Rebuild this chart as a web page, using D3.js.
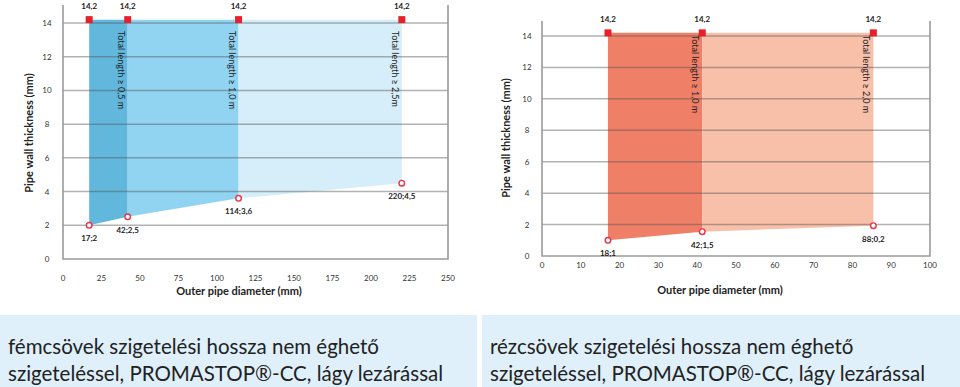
<!DOCTYPE html>
<html>
<head>
<meta charset="utf-8">
<script src="https://d3js.org/d3.v7.min.js"></script>
<style>
  body { margin: 0; background: #fff; }
  svg { display: block; font-family: Lato, "Liberation Sans", sans-serif; }
  .grid { stroke: #555; stroke-opacity: 0.45; stroke-width: 1.5; }
  .frame { stroke: #9a9a9a; stroke-width: 1.6; fill: none; }
  .tick { font-size: 8px; fill: #333; }
  .lbl { font-size: 8px; font-weight: bold; fill: #222; }
  .len { font-size: 9px; fill: #222; }
  .title { font-size: 11px; font-weight: bold; fill: #222; }
  .caption { font-size: 20.5px; fill: #222; }
</style>
</head>
<body>
<script>
// left chart: steel pipes
var steelDiam = [17, 42, 114, 220];
var steelWall = [2, 2.5, 3.6, 4.5];
var steelPointLabels = ["17;2", "42;2,5", "114;3,6", "220;4,5"];
var steelLengthLabels = ["Total length \u2265 0,5 m", "Total length \u2265 1,0 m", "Total length \u2265 2,5m"];
var steelXTicks = [0, 25, 50, 75, 100, 125, 150, 175, 200, 225, 250];

// right chart: copper pipes
var copperDiam = [17, 41.3, 85.4];
var copperWall = [1, 1.55, 1.93];
var copperPointLabels = ["18;1", "42;1,5", "88;0,2"];
var copperLengthLabels = ["Total length \u2265 1,0 m", "Total length \u2265 2,0 m"];
var copperXTicks = [0, 10, 20, 30, 40, 50, 60, 70, 80, 90, 100];

var topWall = 14.2;
var topLabel = "14,2";
var yTicks = [0, 2, 4, 6, 8, 10, 12, 14];

var captions = [
  ["f\u00e9mcs\u00f6vek szigetel\u00e9si hossza nem \u00e9ghet\u0151", "szigetel\u00e9ssel, PROMASTOP\u00ae-CC, l\u00e1gy lez\u00e1r\u00e1ssal"],
  ["r\u00e9zcs\u00f6vek szigetel\u00e9si hossza nem \u00e9ghet\u0151", "szigetel\u00e9ssel, PROMASTOP\u00ae-CC, l\u00e1gy lez\u00e1r\u00e1ssal"]
];

var svg = d3.select("body").append("svg").attr("width", 960).attr("height", 387);

function drawChart(o) {
  var x = d3.scaleLinear().domain([0, o.xMax]).range([o.x0, o.x1]);
  var y = d3.scaleLinear().domain([0, 14]).range([o.y0, o.y1]);
  var g = svg.append("g");

  // filled bands between consecutive diameters
  var bands = d3.range(o.diam.length - 1).map(function (i) {
    return [
      [o.diam[i], topWall], [o.diam[i + 1], topWall],
      [o.diam[i + 1], o.wall[i + 1]], [o.diam[i], o.wall[i]]
    ];
  });
  var poly = d3.line().x(function (d) { return x(d[0]); }).y(function (d) { return y(d[1]); });
  g.selectAll(".band").data(bands).enter().append("path")
    .attr("d", function (d) { return poly(d) + "Z"; })
    .attr("fill", function (d, i) { return o.colors[i]; });

  // grid
  g.selectAll(".grid").data(yTicks.slice(1)).enter().append("line")
    .attr("class", "grid")
    .attr("x1", x(0)).attr("x2", x(o.xMax))
    .attr("y1", function (d) { return y(d); }).attr("y2", function (d) { return y(d); });

  // frame: left, bottom, right
  g.append("path").attr("class", "frame")
    .attr("d", "M" + x(0) + "," + o.yTop + "V" + y(0) + "H" + x(o.xMax) + "V" + o.yTop);

  g.selectAll(".ytick").data(yTicks).enter().append("text")
    .attr("class", "tick").attr("text-anchor", "middle")
    .attr("x", o.yTickX).attr("y", function (d) { return y(d) + 3; })
    .text(function (d) { return d; });

  g.selectAll(".xtick").data(o.xTicks).enter().append("text")
    .attr("class", "tick").attr("text-anchor", "middle")
    .attr("x", function (d) { return x(d); }).attr("y", y(0) + o.xTickDy)
    .text(function (d) { return d; });

  // vertical labels
  g.selectAll(".len").data(o.lengths).enter().append("text")
    .attr("class", "len")
    .attr("transform", function (d, i) {
      return "translate(" + (x(o.diam[i + 1]) - 10) + "," + o.lenY + ") rotate(90)";
    })
    .text(function (d) { return d; });

  // top markers
  g.selectAll(".sq").data(o.diam).enter().append("rect")
    .attr("x", function (d) { return x(d) - 3.5; }).attr("y", y(topWall) - 3.5)
    .attr("width", 7).attr("height", 7).attr("fill", "#e8202a");
  g.selectAll(".toplbl").data(o.diam).enter().append("text")
    .attr("class", "lbl").attr("text-anchor", "middle")
    .attr("x", function (d) { return x(d); }).attr("y", y(topWall) - 11)
    .text(topLabel);

  // bottom markers
  g.selectAll(".pt").data(o.diam).enter().append("circle")
    .attr("cx", function (d) { return x(d); })
    .attr("cy", function (d, i) { return y(o.wall[i]); })
    .attr("r", 2.8).attr("fill", "#fff").attr("stroke", "#e8334a").attr("stroke-width", 1.4);
  g.selectAll(".ptlbl").data(o.diam).enter().append("text")
    .attr("class", "lbl").attr("text-anchor", "middle")
    .attr("x", function (d) { return x(d); })
    .attr("y", function (d, i) { return y(o.wall[i]) + 16; })
    .text(function (d, i) { return o.pointLabels[i]; });

  g.append("text").attr("class", "title").attr("text-anchor", "middle")
    .attr("x", o.xTitleX).attr("y", o.xTitleY).text("Outer pipe diameter (mm)");
  g.append("text").attr("class", "title").attr("text-anchor", "middle")
    .attr("dominant-baseline", "central")
    .attr("transform", "translate(" + o.yTitleX + "," + o.yTitleY + ") rotate(-90)")
    .text("Pipe wall thickness (mm)");
}

drawChart({
  diam: steelDiam, wall: steelWall, pointLabels: steelPointLabels, lengths: steelLengthLabels,
  xTicks: steelXTicks, xMax: 250, colors: ["#62b7dd", "#90d4f2", "#d5eefa"],
  x0: 63, x1: 448, y0: 259, y1: 23, yTop: 5, yTickX: 47, xTickDy: 22, lenY: 31,
  xTitleX: 239, xTitleY: 295, yTitleX: 28, yTitleY: 133
});
drawChart({
  diam: copperDiam, wall: copperWall, pointLabels: copperPointLabels, lengths: copperLengthLabels,
  xTicks: copperXTicks, xMax: 100, colors: ["#f07f68", "#f8bfa9"],
  x0: 542, x1: 930, y0: 256, y1: 36, yTop: 21, yTickX: 527, xTickDy: 12, lenY: 35,
  xTitleX: 720, xTitleY: 294, yTitleX: 505, yTitleY: 138
});

// caption boxes
var boxes = [{ x: 0, w: 477 }, { x: 482, w: 478 }];
svg.selectAll(".box").data(boxes).enter().append("rect")
  .attr("x", function (d) { return d.x; }).attr("y", 315)
  .attr("width", function (d) { return d.w; }).attr("height", 72)
  .attr("fill", "#dff0fa");
boxes.forEach(function (b, i) {
  svg.selectAll(null).data(captions[i]).enter().append("text")
    .attr("class", "caption")
    .attr("x", b.x + 8).attr("y", function (d, j) { return 354 + j * 27; })
    .text(function (d) { return d; });
});
</script>
</body>
</html>
